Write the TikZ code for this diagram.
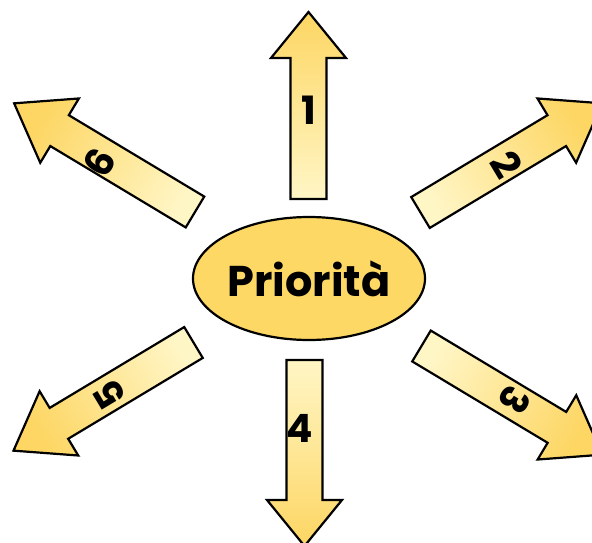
\documentclass[tikz,border=0pt]{standalone}
\usepackage{fontspec}
\setmainfont{Poppins}
\definecolor{ydark}{HTML}{FDD663}
\definecolor{ypale}{HTML}{FFF6C6}
\definecolor{efill}{HTML}{FDD865}
\tikzset{
  arrowbody/.style={draw=black, line width=2.2pt, line join=miter, top color=ydark, bottom color=ypale},
  pics/bigarrow/.style n args={3}{code={
    \path[arrowbody, shading angle=#3] (0,-18) -- (#1,-18) -- (#1,-37.5) -- ({#1+#2},0) -- (#1,37.5) -- (#1,18) -- (0,18) -- cycle;
  }},
  num/.style={font=\bfseries\fontsize{39}{44}\selectfont, inner sep=0pt},
  centre/.style={ellipse, draw=black, line width=2.2pt, fill=efill, minimum width=232pt, minimum height=123pt, inner sep=0pt, font=\bfseries\fontsize{43}{48}\selectfont}
}
\usetikzlibrary{shapes.geometric}
\begin{document}
\begin{tikzpicture}[x=1pt,y=1pt]
\useasboundingbox (0,0) rectangle (592,542);
% arrows
\pic (a1) [shift={(308.5,343)}, rotate=90] {bigarrow={141}{46}{0}};
\pic (a4) [shift={(304.5,182)}, rotate=-90] {bigarrow={140}{46}{180}};
\pic (a2) [shift={(420.5,329.5)}, rotate=31] {bigarrow={159}{53}{-59}};
\pic (a3) [shift={(421.5,196)}, rotate=-31] {bigarrow={158}{53}{-121}};
\pic (a5) [shift={(193.5,199.5)}, rotate=211] {bigarrow={157}{53}{121}};
\pic (a6) [shift={(195,330)}, rotate=149] {bigarrow={158}{53}{59}};
% numbers
\node[num] (n1) at (309,432) {1};
\node[num, rotate=-59] (n2) at (507,377) {2};
\node[num, rotate=-121] (n3) at (515,142) {3};
\node[num] (n4) at (300,114) {4};
\node[num, rotate=121] (n5) at (110,147) {5};
\node[num, rotate=59] (n6) at (100,380) {6};
% centre
\node[centre] (c) at (309,263.5) {Priorità};
\end{tikzpicture}
\end{document}
